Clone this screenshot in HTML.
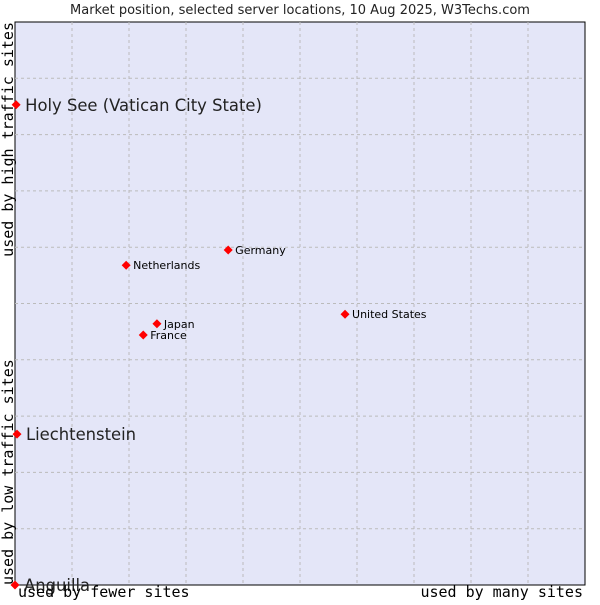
<!DOCTYPE html>
<html><head><meta charset="utf-8"><style>
body{margin:0;background:#fff;width:600px;height:600px;overflow:hidden}
svg text{font-family:"DejaVu Sans","Liberation Sans",sans-serif}
.mono{font-family:"DejaVu Sans Mono","Liberation Mono",monospace}
</style></head><body>
<svg id="chart" width="600" height="600" xmlns="http://www.w3.org/2000/svg">
<text x="300" y="14" text-anchor="middle" font-size="13" fill="#222">Market position, selected server locations, 10 Aug 2025, W3Techs.com</text>
<rect x="15" y="22" width="570" height="563" fill="#e4e6f8" stroke="#000" stroke-width="1"/>
<g id="grid"></g>
<g id="marks"></g>
<text class="mono" x="18" y="597" font-size="15" fill="#000">used by fewer sites</text>
<text class="mono" x="583" y="597" text-anchor="end" font-size="15" fill="#000">used by many sites</text>
<text class="mono" transform="translate(13,22) rotate(-90)" text-anchor="end" font-size="15" fill="#000">used by high traffic sites</text>
<text class="mono" transform="translate(13,585) rotate(-90)" font-size="15" fill="#000">used by low traffic sites</text>
</svg>
<script>
const names=["Holy See (Vatican City State)","Liechtenstein","Anguilla","Germany","Netherlands","United States","Japan","France"];
const xVals=[0.2,0.35,0,37.4,19.5,57.9,24.9,22.5];
const yVals=[85.3,26.8,0,59.5,56.8,48.1,46.4,44.4];
const bigLabel=[true,true,true,false,false,false,false,false];
const X0=15,X1=585,Y0=585,Y1=22;
const sx=v=>X0+v/100*(X1-X0);
const sy=v=>Y0-v/100*(Y0-Y1);
const NS="http://www.w3.org/2000/svg";
const grid=document.getElementById('grid');
for(let i=1;i<10;i++){
 let l=document.createElementNS(NS,'line');
 
 
 let x=sx(i*10);l.setAttribute('x1',x);l.setAttribute('x2',x);l.setAttribute('y1',Y1);l.setAttribute('y2',Y0);
 l.setAttribute('stroke','#bbb');l.setAttribute('stroke-dasharray','3,3');grid.appendChild(l);
 let h=document.createElementNS(NS,'line');
 
 
 let y=sy(i*10);h.setAttribute('x1',X0);h.setAttribute('x2',X1);h.setAttribute('y1',y);h.setAttribute('y2',y);
 h.setAttribute('stroke','#bbb');h.setAttribute('stroke-dasharray','3,3');grid.appendChild(h);
}
const marks=document.getElementById('marks');
names.forEach((n,i)=>{
 const x=sx(xVals[i]),y=sy(yVals[i]);
 const p=document.createElementNS(NS,'polygon');
 
 
 p.setAttribute('points',`${x},${y-4.5} ${x+4.5},${y} ${x},${y+4.5} ${x-4.5},${y}`);
 p.setAttribute('fill','#f00');marks.appendChild(p);
 const t=document.createElementNS(NS,'text');
 
 
 const big=bigLabel[i];
 t.setAttribute('x',x+(big?9:7));t.setAttribute('y',y+(big?6:4));
 t.setAttribute('font-size',big?16.4:11);t.setAttribute('fill',big?'#222':'#000');
 t.textContent=n;marks.appendChild(t);
});
</script>
</body></html>
